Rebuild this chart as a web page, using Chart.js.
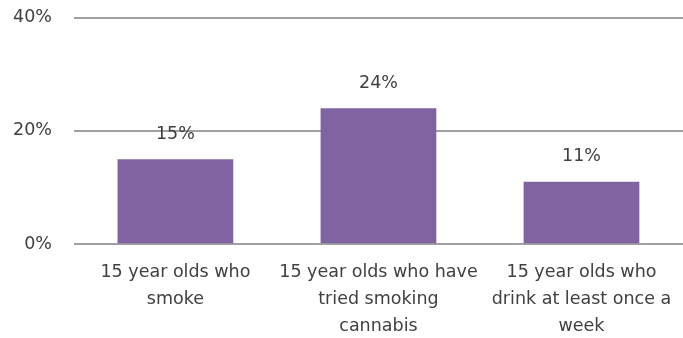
<!DOCTYPE html>
<html>
<head>
<meta charset="utf-8">
<script src="https://cdn.jsdelivr.net/npm/chart.js@4/dist/chart.umd.min.js"></script>
<style>
  html, body { margin: 0; padding: 0; background: #fff; overflow: hidden; }
  #frame { width: 683px; height: 338px; overflow: hidden; }
  #wrap { width: 683px; height: 362px; margin-top: -15px; }
</style>
</head>
<body>
<div id="frame"><div id="wrap"><canvas id="chart"></canvas></div></div>
<script>
var CATEGORIES = [
  ['15 year olds who', 'smoke'],
  ['15 year olds who have', 'tried smoking', 'cannabis'],
  ['15 year olds who', 'drink at least once a', 'week']
];
var VALUES = [15, 24, 11];
var Y_TICKS = [0, 20, 40];

var TEXT_COLOR = '#404040';
var FONT = '"DejaVu Sans", sans-serif';
var FONT_SIZE = 17.5;

// values printed above each bar
var barLabels = {
  id: 'barLabels',
  afterDatasetsDraw: function(chart) {
    var ctx = chart.ctx;
    var meta = chart.getDatasetMeta(0);
    ctx.save();
    ctx.fillStyle = TEXT_COLOR;
    ctx.font = FONT_SIZE + 'px ' + FONT;
    ctx.textAlign = 'center';
    ctx.textBaseline = 'middle';
    meta.data.forEach(function(bar, i) {
      ctx.fillText(VALUES[i] + '%', bar.x, bar.y - 25);
    });
    ctx.restore();
  }
};

new Chart(document.getElementById('chart'), {
  type: 'bar',
  data: {
    labels: CATEGORIES,
    datasets: [{
      data: VALUES,
      backgroundColor: '#8064A2',
      borderWidth: 0,
      categoryPercentage: 1,
      barPercentage: 0.57
    }]
  },
  options: {
    responsive: true,
    maintainAspectRatio: false,
    animation: false,
    layout: { padding: { top: 0, right: 0, left: -9, bottom: 0 } },
    plugins: {
      legend: { display: false },
      tooltip: { enabled: false }
    },
    scales: {
      x: {
        grid: { display: false },
        border: { display: false },
        ticks: {
          color: TEXT_COLOR,
          font: { family: FONT, size: FONT_SIZE, lineHeight: 1.54 },
          maxRotation: 0,
          padding: 7
        }
      },
      y: {
        min: Y_TICKS[0],
        max: Y_TICKS[Y_TICKS.length - 1],
        afterBuildTicks: function(axis) {
          axis.ticks = Y_TICKS.map(function(v) { return { value: v }; });
        },
        grid: { color: '#a0a0a0', lineWidth: 2, drawTicks: false },
        border: { display: false },
        ticks: {
          color: TEXT_COLOR,
          font: { family: FONT, size: FONT_SIZE },
          padding: 22,
          callback: function(v) { return v + '%'; }
        }
      }
    }
  },
  plugins: [barLabels]
});
</script>
</body>
</html>
